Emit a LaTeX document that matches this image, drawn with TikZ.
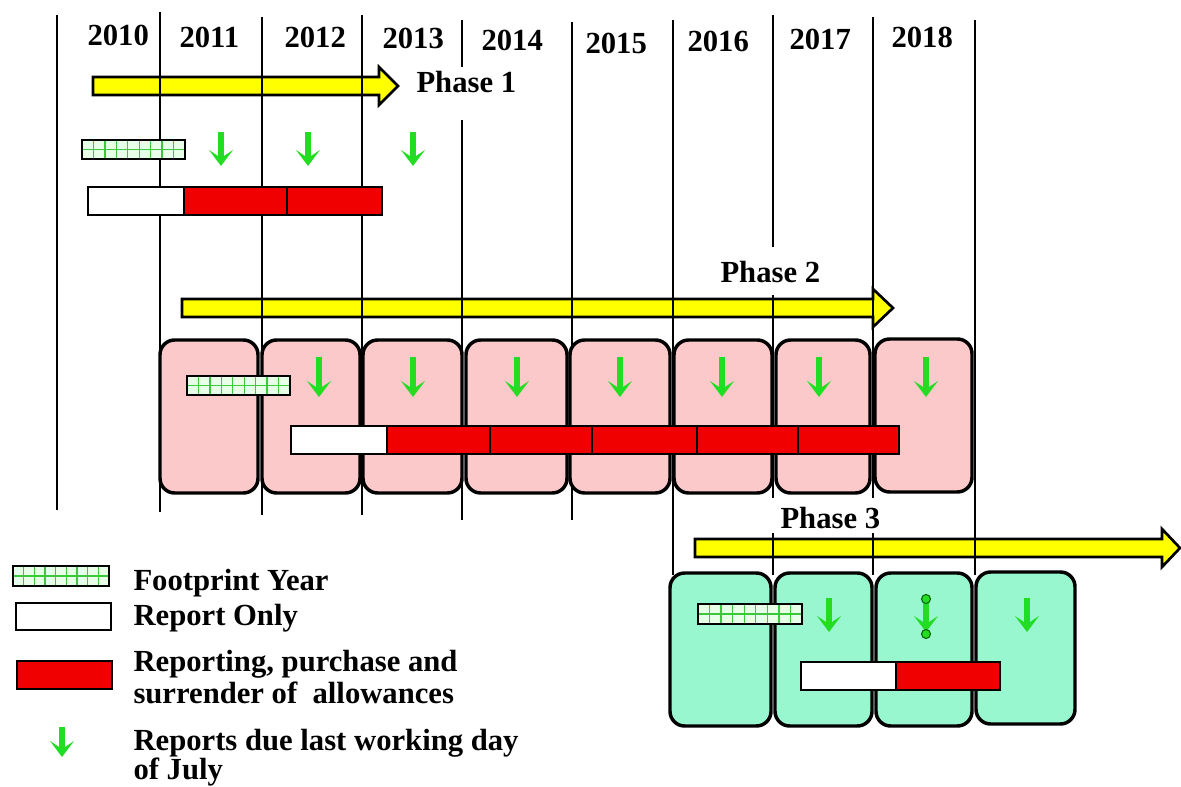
\documentclass[tikz,border=0pt]{standalone}
\usepackage{fontspec}
\setmainfont{Liberation Serif}
\usetikzlibrary{arrows.meta}

\definecolor{phaseyellow}{RGB}{255,255,0}
\definecolor{pinkfill}{RGB}{251,201,201}
\definecolor{mintfill}{RGB}{153,247,208}
\definecolor{duegreen}{RGB}{34,221,34}
\definecolor{fpgreen}{RGB}{60,200,60}
\definecolor{fplight}{RGB}{232,255,232}
\definecolor{barred}{RGB}{240,0,0}

\tikzset{every picture/.style={line width=0.75pt}}
\tikzset{
  yearline/.style={line width=1.5pt},
  pinkcell/.style={line width=2.6pt, rounded corners=11pt, fill=pinkfill},
  mintcell/.style={line width=2.6pt, rounded corners=11pt, fill=mintfill},
  bar/.style={line width=1.8pt},
  due/.style={duegreen, line width=4.4pt, -{Stealth[length=12pt,width=18pt,inset=6pt]}},
  lbl/.style={font=\fontsize{23}{25}\selectfont\bfseries, inner sep=0pt, anchor=base west},
}

% start x, head base x, tip x, centre y
\newcommand{\phasearrow}[4]{%
  \draw[line width=2pt, fill=phaseyellow, line join=miter]
    (#1,#4-9) -- (#2,#4-9) -- (#2,#4-19) -- (#3,#4) -- (#2,#4+19) -- (#2,#4+9) -- (#1,#4+9) -- cycle;}

% footprint year box: x1, y1, x2, y2
\newcommand{\fpbox}[4]{%
  \fill[fplight] (#1,#2) rectangle (#3,#4);
  \foreach \i in {1,...,8}
    \draw[fpgreen, line width=1pt] ({#1+\i*(#3-#1)/9},#2) -- ({#1+\i*(#3-#1)/9},#4);
  \draw[fpgreen, line width=1pt] (#1,{(#2+#4)/2}) -- (#3,{(#2+#4)/2});
  \draw[bar] (#1,#2) rectangle (#3,#4);}

\begin{document}
\begin{tikzpicture}[x=0.75pt,y=0.75pt,yscale=-1,xscale=1]
        \useasboundingbox (0,0) rectangle (1181,787);

        % phase arrows
        \phasearrow{93}{379}{398}{86}
        \phasearrow{182}{873}{893}{308}
        \phasearrow{695}{1162}{1180}{548}

        % year lines
        \draw[yearline] (57,15) -- (57,510);
        \draw[yearline] (160,12) -- (160,512);
        \draw[yearline] (262,17) -- (262,515);
        \draw[yearline] (362,15) -- (362,515);
        \draw[yearline] (462,20) -- (462,67) (462,120) -- (462,520);
        \draw[yearline] (572,22) -- (572,520);
        \draw[yearline] (673,20) -- (673,575);
        \draw[yearline] (773,15) -- (773,247) (773,295) -- (773,498) (773,533) -- (773,575);
        \draw[yearline] (873,17) -- (873,498) (873,533) -- (873,575);
        \draw[yearline] (975,20) -- (975,575);

        % phase 2 years
        \draw[pinkcell] (160,340) rectangle (258,493);
        \draw[pinkcell] (262,340) rectangle (360,493);
        \draw[pinkcell] (363,340) rectangle (462,493);
        \draw[pinkcell] (466,340) rectangle (567,493);
        \draw[pinkcell] (570,340) rectangle (670,493);
        \draw[pinkcell] (674,340) rectangle (772,493);
        \draw[pinkcell] (776,340) rectangle (870,493);
        \draw[pinkcell] (875,339) rectangle (972,492);

        % phase 3 years
        \draw[mintcell] (670,573) rectangle (771,726);
        \draw[mintcell] (775,573) rectangle (872,726);
        \draw[mintcell] (876,573) rectangle (972,726);
        \draw[mintcell] (976,572) rectangle (1075,724);

        % phase 1 bars
        \fpbox{82}{140}{185}{159}
        \draw[bar, fill=white] (88,187) rectangle (184,215);
        \draw[bar, fill=barred] (184,187) rectangle (287,215);
        \draw[bar, fill=barred] (287,187) rectangle (382,215);

        % phase 2 bars
        \fpbox{187}{376}{290}{395}
        \draw[bar, fill=white] (291,426) rectangle (387,454);
        \draw[bar, fill=barred] (387,426) rectangle (490,454);
        \draw[bar, fill=barred] (490,426) rectangle (592,454);
        \draw[bar, fill=barred] (592,426) rectangle (697,454);
        \draw[bar, fill=barred] (697,426) rectangle (798,454);
        \draw[bar, fill=barred] (798,426) rectangle (899,454);

        % phase 3 bars
        \fpbox{698}{604}{802}{624}
        \draw[bar, fill=white] (801,662) rectangle (896,690);
        \draw[bar, fill=barred] (896,662) rectangle (1000,690);

        % reports due
        \foreach \x in {221,308,413}
          \draw[due] (\x,132) -- (\x,166);
        \foreach \x in {319,413,517,620,722,819,926}
          \draw[due] (\x,357) -- (\x,397);
        \foreach \x in {829,926,1027}
          \draw[due] (\x,598) -- (\x,632);
        \draw[fill=duegreen, draw=black!60!green, line width=0.8pt] (926,599) circle (4.5) (926,634) circle (4.5);

        % year labels
        \node[lbl] (y2010) at (87,46) {2010};
        \node[lbl] (y2011) at (179,48) {2011};
        \node[lbl] (y2012) at (284,48) {2012};
        \node[lbl] (y2013) at (382,49) {2013};
        \node[lbl] (y2014) at (481,51) {2014};
        \node[lbl] (y2015) at (585,54) {2015};
        \node[lbl] (y2016) at (687,52) {2016};
        \node[lbl] (y2017) at (789,50) {2017};
        \node[lbl] (y2018) at (891,48) {2018};

        % phase labels
        \node[lbl] (ph1) at (416,93) {Phase 1};
        \node[lbl] (ph2) at (720,283) {Phase 2};
        \node[lbl] (ph3) at (780,528) {Phase 3};

        % legend
        \fpbox{13}{566}{109}{586}
        \draw[bar, fill=white] (16,603) rectangle (111,630);
        \draw[bar, fill=barred] (17,661) rectangle (112,689);
        \draw[due] (62,727) -- (62,757);
        \node[lbl] (lgfp) at (133,590) {Footprint Year};
        \node[lbl] (lgrep) at (133,625) {Report Only};
        \node[lbl] (lgbuy) at (133,671) {Reporting, purchase and};
        \node[lbl] (lgsur) at (133,703) {surrender of \ allowances};
        \node[lbl] (lgdue) at (133,750) {Reports due last working day};
        \node[lbl] (lgjul) at (133,779) {of July};
\end{tikzpicture}
\end{document}
